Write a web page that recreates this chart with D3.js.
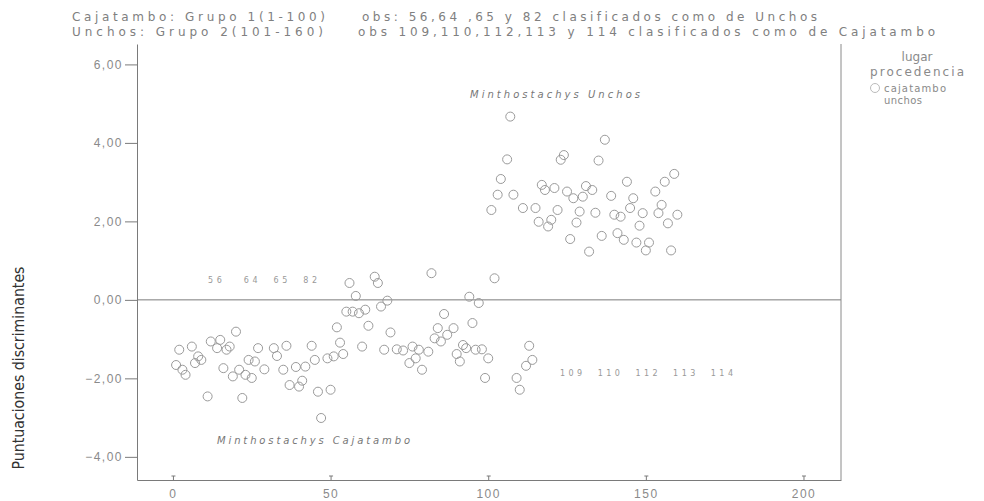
<!DOCTYPE html>
<html lang="es">
<head>
<meta charset="UTF-8">
<title>Puntuaciones discriminantes</title>
<script src="https://cdnjs.cloudflare.com/ajax/libs/d3/7.8.5/d3.min.js"></script>
<style>
  body { margin: 0; background: #fff; }
  svg { display: block; font-family: "DejaVu Sans", Verdana, sans-serif; }
  .tick text { fill: #8a8a8a; font-size: 12px; letter-spacing: 1.5px; }
  .tick line, .domain { stroke: #7a7a7a; }
</style>
</head>
<body>
<div id="chart"></div>
<script>
const cajObs   = [56, 64, 65, 82, 58, 68, 94, 97, 55, 57, 59, 61, 66, 86, 52, 62, 69, 95,
                  20, 84, 89, 83, 87, 85, 12, 15, 2, 6, 14, 18, 17, 27, 32, 36, 44, 53, 60,
                  67, 71, 73, 76, 78, 81, 92, 93, 96, 98, 100, 90, 8, 9, 7, 1, 24, 26, 33,
                  45, 49, 51, 54, 3, 4, 16, 21, 19, 23, 25, 29, 35, 39, 42, 77, 75, 79, 91,
                  99, 37, 40, 41, 46, 50, 11, 22, 47];
const cajScore = [0.43, 0.59, 0.43, 0.68, 0.10, -0.02, 0.08, -0.08, -0.30, -0.30, -0.34, -0.25,
                  -0.17, -0.36, -0.70, -0.66, -0.83, -0.59, -0.81, -0.72, -0.72, -0.98, -0.89,
                  -1.06, -1.06, -1.02, -1.27, -1.19, -1.23, -1.19, -1.27, -1.23, -1.23, -1.17,
                  -1.17, -1.09, -1.19, -1.27, -1.26, -1.29, -1.19, -1.27, -1.32, -1.15, -1.23,
                  -1.27, -1.26, -1.49, -1.38, -1.44, -1.53, -1.61, -1.66, -1.53, -1.57, -1.43,
                  -1.53, -1.49, -1.44, -1.38, -1.78, -1.91, -1.74, -1.78, -1.95, -1.91, -1.99,
                  -1.77, -1.78, -1.71, -1.70, -1.49, -1.61, -1.78, -1.57, -1.99, -2.17, -2.21,
                  -2.06, -2.34, -2.29, -2.46, -2.50, -3.01];
const unchObs   = [107, 137, 106, 124, 123, 135, 104, 159, 156, 144, 117, 118, 131, 133, 121,
                   103, 108, 125, 127, 130, 139, 146, 153, 101, 111, 115, 122, 129, 134, 140,
                   142, 145, 149, 154, 155, 160, 116, 120, 119, 128, 148, 157, 126, 136, 141,
                   143, 147, 151, 132, 150, 158, 102, 109, 110, 112, 113, 114];
const unchScore = [4.67, 4.08, 3.58, 3.69, 3.57, 3.55, 3.08, 3.21, 3.01, 3.01, 2.93, 2.80,
                   2.90, 2.80, 2.85, 2.68, 2.68, 2.76, 2.59, 2.63, 2.65, 2.59, 2.76, 2.29,
                   2.34, 2.34, 2.29, 2.25, 2.22, 2.17, 2.12, 2.34, 2.21, 2.21, 2.42, 2.17,
                   1.99, 2.04, 1.87, 1.97, 1.89, 1.95, 1.55, 1.63, 1.70, 1.53, 1.46, 1.46,
                   1.23, 1.26, 1.26, 0.55, -1.99, -2.29, -1.68, -1.17, -1.53];

const xTicks = [0, 50, 100, 150, 200];
const yTicks = [-4, -2, 0, 2, 4, 6];
const titleLines = [
  ["Cajatambo: Grupo 1(1-100)", "obs: 56,64 ,65 y 82 clasificados como de  Unchos"],
  ["Unchos: Grupo 2(101-160)", "obs 109,110,112,113 y 114  clasificados como de  Cajatambo"]
];
const groups = ["cajatambo", "unchos"];

const width = 984, height = 501;
const plotL = 137, plotR = 841, plotT = 44, plotB = 480;

const svg = d3.select("#chart").append("svg")
  .attr("width", width).attr("height", height);

const x = d3.scaleLinear().domain([-11.4, 211.9]).range([plotL, plotR]);
const y = d3.scaleLinear().domain([-4.59, 6.52]).range([plotB, plotT]);

const points = cajObs.map((o, i) => ({ obs: o, score: cajScore[i], g: groups[0] }))
  .concat(unchObs.map((o, i) => ({ obs: o, score: unchScore[i], g: groups[1] })));

// zero line
svg.append("line")
  .attr("x1", plotL).attr("x2", plotR)
  .attr("y1", y(0)).attr("y2", y(0))
  .attr("stroke", "#7a7a7a").attr("stroke-width", 1);

// right frame edge
svg.append("line")
  .attr("x1", plotR).attr("x2", plotR)
  .attr("y1", plotT).attr("y2", plotB)
  .attr("stroke", "#8a8a8a").attr("stroke-width", 1);

// axes
svg.append("g")
  .attr("transform", `translate(${plotL},0)`)
  .call(d3.axisLeft(y).tickValues(yTicks).tickSize(12).tickSizeOuter(0).tickPadding(2)
    .tickFormat(d => d3.format(".2f")(d).replace(".", ",")));

const xAxis = svg.append("g")
  .attr("transform", `translate(0,${plotB})`)
  .call(d3.axisBottom(x).tickValues(xTicks).tickSize(-4).tickSizeOuter(0).tickPadding(8));
xAxis.selectAll(".tick").append("line")
  .attr("x1", -2).attr("x2", 2).attr("y1", -4).attr("y2", -4)
  .attr("stroke", "#7a7a7a");
xAxis.selectAll(".tick text").attr("dy", "0.85em");

// points
svg.append("g").selectAll("circle")
  .data(points)
  .join("circle")
  .attr("cx", d => x(d.obs))
  .attr("cy", d => y(d.score))
  .attr("r", 4.5)
  .attr("fill", "none")
  .attr("stroke", "#9a9a9a")
  .attr("stroke-width", 1);

// header text
const header = svg.append("g").attr("fill", "#808080").style("font-size", "12px");
titleLines.forEach((l, i) => {
  header.append("text").attr("x", 72).attr("y", 21 + i * 15)
    .attr("textLength", i === 0 ? 253 : 251).attr("lengthAdjust", "spacing").text(l[0]);
  header.append("text").attr("x", i === 0 ? 362 : 358).attr("y", 21 + i * 15)
    .attr("textLength", i === 0 ? 455 : 577).attr("lengthAdjust", "spacing").text(l[1]);
});

// annotations in the plot
const ann = svg.append("g").attr("fill", "#777");
ann.append("text").attr("x", 470).attr("y", 98)
  .style("font-size", "10px").style("font-style", "italic")
  .attr("textLength", 170).attr("lengthAdjust", "spacing")
  .text("Minthostachys Unchos");
ann.append("text").attr("x", 217).attr("y", 444)
  .style("font-size", "10px").style("font-style", "italic")
  .attr("textLength", 193).attr("lengthAdjust", "spacing")
  .text("Minthostachys Cajatambo");
ann.append("text").attr("x", 208).attr("y", 283)
  .style("font-size", "8px").style("white-space", "pre").attr("fill", "#999")
  .attr("textLength", 109).attr("lengthAdjust", "spacing")
  .text("56   64  65  82");
ann.append("text").attr("x", 560).attr("y", 376)
  .style("font-size", "8px").style("white-space", "pre").attr("fill", "#999")
  .attr("textLength", 173).attr("lengthAdjust", "spacing")
  .text("109  110  112  113  114");

// y axis title
svg.append("text")
  .attr("transform", "translate(24,368) rotate(-90)")
  .attr("text-anchor", "middle")
  .attr("fill", "#333")
  .style("font-family", "'Liberation Sans Narrow', 'DejaVu Sans Condensed', sans-serif")
  .style("font-size", "15px")
  .attr("textLength", 203).attr("lengthAdjust", "spacingAndGlyphs")
  .text("Puntuaciones discriminantes");

// legend
const leg = svg.append("g").attr("fill", "#8a8a8a").style("font-size", "12px");
leg.append("text").attr("x", 917).attr("y", 61).attr("text-anchor", "middle").text("lugar");
leg.append("text").attr("x", 917).attr("y", 76).attr("text-anchor", "middle")
  .attr("textLength", 94).attr("lengthAdjust", "spacing").text("procedencia");
leg.append("circle").attr("cx", 875).attr("cy", 88).attr("r", 4.5)
  .attr("fill", "none").attr("stroke", "#bbb");
leg.append("text").attr("x", 884).attr("y", 92).style("font-size", "10px")
  .attr("textLength", 62).attr("lengthAdjust", "spacing").text(groups[0]);
leg.append("text").attr("x", 884).attr("y", 104).style("font-size", "10px")
  .attr("textLength", 38).attr("lengthAdjust", "spacing").text(groups[1]);
</script>
</body>
</html>
